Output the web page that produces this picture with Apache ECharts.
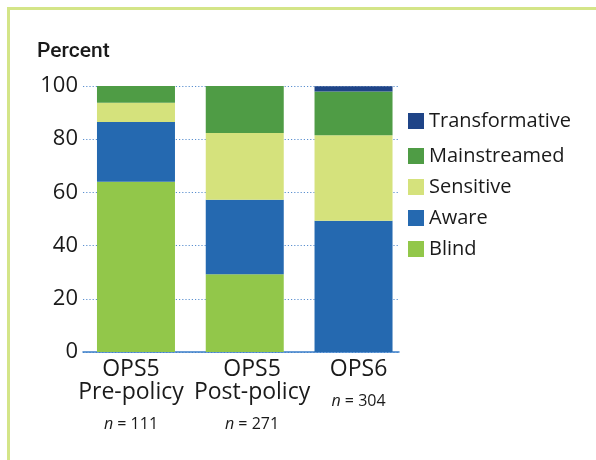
<!DOCTYPE html>
<html>
<head>
<meta charset="utf-8">
<script src="https://cdn.jsdelivr.net/npm/echarts@6/dist/echarts.min.js"></script>
<style>
  html, body { margin: 0; padding: 0; background: #ffffff; }
  #chart { width: 596px; height: 460px; }
</style>
</head>
<body>
<div id="chart"></div>
<script>
// Survey groups along the x axis
const groupNames = ['OPS5', 'OPS5', 'OPS6'];
const groupPhases = ['Pre-policy', 'Post-policy', ''];
const sampleSizes = [111, 271, 304];

// Share of respondents in each category (percent)
const blind          = [64.0, 29.2, 0.0];
const aware          = [22.5, 28.0, 49.3];
const sensitive      = [7.2, 25.1, 32.2];
const mainstreamed   = [6.3, 17.7, 16.4];
const transformative = [0.0, 0.0, 2.0];

const yTicks = [0, 20, 40, 60, 80, 100];

const FONT = '"Open Sans", "DejaVu Sans", sans-serif';
const TITLE_FONT = 'Roboto, "Open Sans", sans-serif';
const INK = '#1a1a1a';

const seriesDefs = [
  { name: 'Blind', values: blind, color: '#92c74a' },
  { name: 'Aware', values: aware, color: '#2569b0' },
  { name: 'Sensitive', values: sensitive, color: '#d5e27c' },
  { name: 'Mainstreamed', values: mainstreamed, color: '#4f9c45' },
  { name: 'Transformative', values: transformative, color: '#1f4487' }
];

// group labels sit slightly spread out from the bar centres
const labelNudge = [-0.046, 0.067, 0.046];

function groupLabel(v) {
  const i = Math.round(v);
  if (i < 0 || i >= groupNames.length) return '';
  const lines = ['{a|' + groupNames[i] + '}'];
  if (groupPhases[i]) lines.push('{a|' + groupPhases[i] + '}');
  lines.push('{n|n}{s| = ' + sampleSizes[i] + '}');
  return lines.join('\n');
}

const legendBase = {
  orient: 'vertical',
  left: 408,
  padding: 0,
  icon: 'rect',
  itemWidth: 16,
  itemHeight: 16,
  selectedMode: false,
  textStyle: { fontFamily: FONT, fontSize: 20, color: INK }
};

const chart = echarts.init(document.getElementById('chart'), null, { renderer: 'canvas' });

chart.setOption({
  animation: false,
  backgroundColor: '#ffffff',
  textStyle: { fontFamily: FONT, color: INK },
  title: {
    text: 'Percent',
    left: 32,
    top: 36,
    textStyle: { fontFamily: TITLE_FONT, fontSize: 21, fontWeight: 500, color: INK }
  },
  legend: [
    Object.assign({}, legendBase, { data: ['Transformative'], top: 111 }),
    Object.assign({}, legendBase, {
      data: ['Mainstreamed', 'Sensitive', 'Aware', 'Blind'],
      top: 146,
      itemGap: 11
    })
  ],
  grid: { left: 83, top: 86, width: 316, height: 266, containLabel: false },
  xAxis: {
    type: 'value',
    min: -0.487,
    max: 2.418,
    splitLine: { show: false },
    axisTick: { show: false },
    axisLine: { show: true, lineStyle: { color: '#3a7dc9', width: 1.5 } },
    axisLabel: {
      customValues: groupNames.map(function (_, i) { return i + labelNudge[i]; }),
      formatter: groupLabel,
      showMinLabel: true,
      showMaxLabel: true,
      hideOverlap: false,
      margin: 6,
      color: INK,
      rich: {
        a: { fontFamily: FONT, fontSize: 23, lineHeight: 23, color: INK },
        n: { fontFamily: FONT, fontSize: 16, fontStyle: 'italic', lineHeight: 41, color: INK },
        s: { fontFamily: FONT, fontSize: 16, lineHeight: 41, color: INK }
      }
    }
  },
  yAxis: {
    type: 'value',
    min: yTicks[0],
    max: yTicks[yTicks.length - 1],
    interval: yTicks[1] - yTicks[0],
    axisLine: { show: false },
    axisTick: { show: false },
    axisLabel: { fontFamily: FONT, fontSize: 22, color: INK, margin: 5 },
    splitLine: { show: true, lineStyle: { color: '#5a8fcf', width: 1.2, type: [1.2, 2] } }
  },
  series: seriesDefs.map(function (d) {
    return {
      name: d.name,
      type: 'bar',
      stack: 'total',
      barWidth: 78,
      itemStyle: { color: d.color },
      // value first so the stack accumulates along the y axis
      encode: { x: 1, y: 0 },
      data: d.values.map(function (v, i) { return [v, i]; })
    };
  }),
  graphic: [
    { type: 'line', shape: { x1: 8.5, y1: 7, x2: 8.5, y2: 460 }, style: { stroke: '#d4e588', lineWidth: 3 } },
    { type: 'line', shape: { x1: 7, y1: 8.5, x2: 596, y2: 8.5 }, style: { stroke: '#d4e588', lineWidth: 3 } }
  ]
});
</script>
</body>
</html>
